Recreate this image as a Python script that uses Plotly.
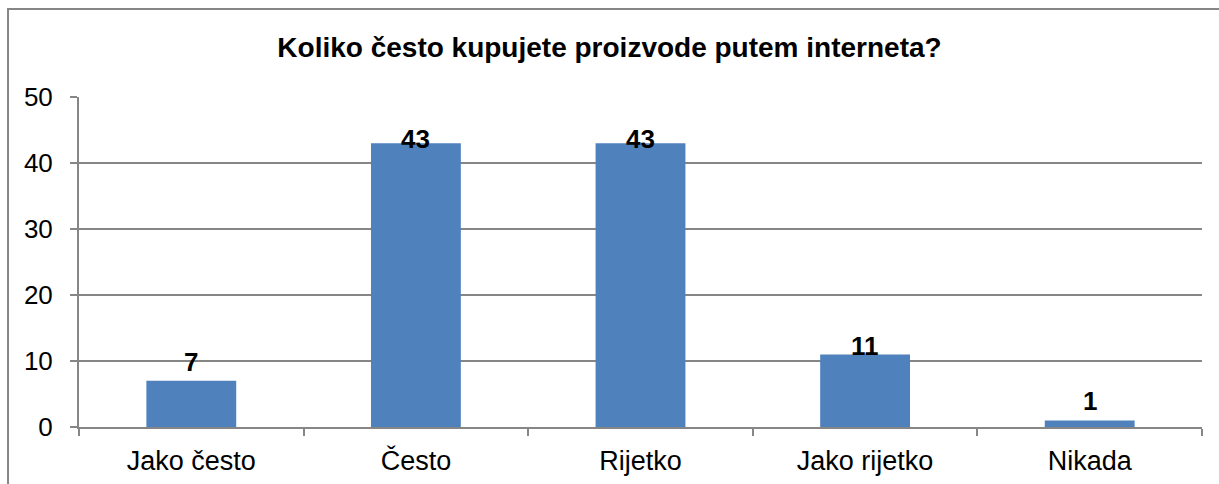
import plotly.graph_objects as go

# DATA
categories = ["Jako često", "Često", "Rijetko", "Jako rijetko", "Nikada"]
values = [7, 43, 43, 11, 1]
y_ticks = [0, 10, 20, 30, 40, 50]

# label nudges (px above bar top) to mimic the original placement
label_shift = [19, 4, 4, 8, 19]

FONT = "Liberation Sans, Arial, sans-serif"
GRAY = "#868686"

fig = go.Figure()

fig.add_trace(go.Bar(
    x=categories,
    y=values,
    marker_color="#4F81BD",
    marker_line_width=0,
    width=0.4,
    hoverinfo="x+y",
))

for cat, val, sh in zip(categories, values, label_shift):
    fig.add_annotation(
        x=cat, y=val, text=f"<b>{val}</b>",
        showarrow=False, yanchor="middle", yshift=sh,
        font=dict(family=FONT, size=26, color="black"),
    )

# outer chart border
fig.add_shape(
    type="rect", xref="paper", yref="paper",
    x0=-0.0632, x1=1.2, y0=-0.6, y1=1.2667,
    line=dict(color=GRAY, width=2), layer="below",
)

fig.update_layout(
    width=1219, height=484,
    margin=dict(l=79, r=17, t=97, b=57),
    paper_bgcolor="white",
    plot_bgcolor="white",
    showlegend=False,
    bargap=0.6,
    font=dict(family=FONT, size=26, color="black"),
    title=dict(
        text="<b>Koliko često kupujete proizvode putem interneta?</b>",
        x=0.5, xanchor="center", y=0.902, yanchor="middle",
        font=dict(family=FONT, size=28, color="black"),
    ),
    xaxis=dict(
        showline=True, linecolor=GRAY, linewidth=2,
        ticks="outside", tickson="boundaries", ticklen=7, tickcolor=GRAY, tickwidth=2,
        showgrid=False, tickfont=dict(size=27), ticklabelstandoff=9,
        automargin=False,
    ),
    yaxis=dict(
        range=[0, 50], tickvals=y_ticks,
        showline=True, linecolor=GRAY, linewidth=2,
        ticks="outside", ticklen=7, tickcolor=GRAY, tickwidth=2,
        showgrid=True, gridcolor=GRAY, gridwidth=2,
        zeroline=False, ticklabelstandoff=12, automargin=False,
    ),
)

# drop the default page margin so the figure sits at the window's corner
fig.write_html(
    "out.html",
    config={"displayModeBar": False},
    post_script="document.body.style.margin='0';",
)
